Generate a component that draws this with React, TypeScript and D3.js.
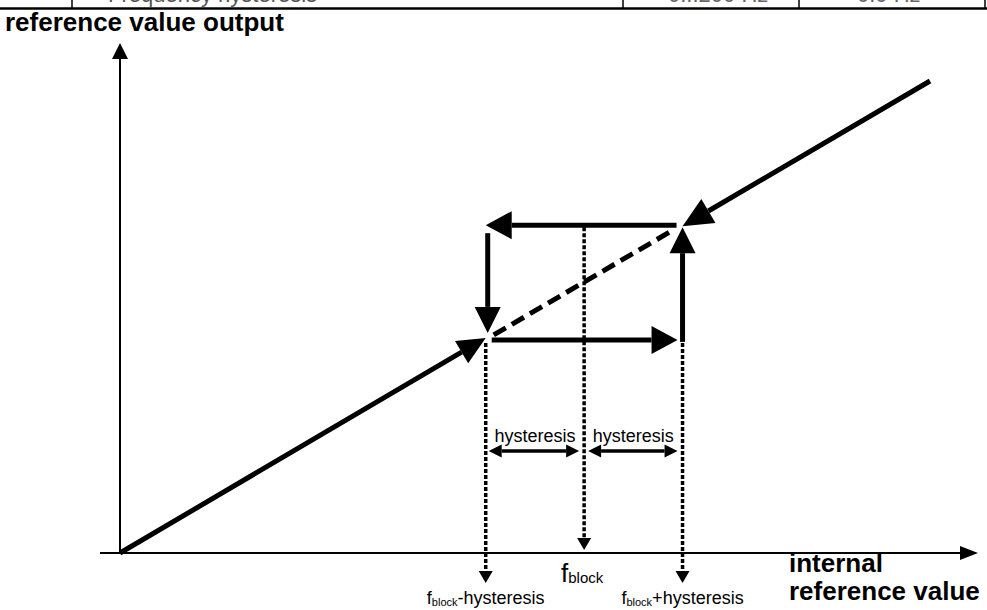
import React from "react";
import * as d3 from "d3";

// ---- data ----
const X_DOMAIN = [0, 100];
const Y_DOMAIN = [0, 100];
const characteristic = [0, 100]; // output = input along the reference line
const F_BLOCK = 57.3;
const HYSTERESIS = 12.15;
const Y_TITLE = "reference value output";
const X_TITLE = ["internal", "reference value"];
const HYST_LABEL = "hysteresis";
const TABLE_CELLS = ["", "Frequency hysteresis", "0...200 Hz", "0.0 Hz"];

const W = 987;
const H = 610;
const FONT = "'Liberation Sans', Arial, sans-serif";

const x = d3.scaleLinear().domain(X_DOMAIN).range([120, 930]);
const y = d3.scaleLinear().domain(Y_DOMAIN).range([553, 81]);

function head(tx: number, ty: number, fx: number, fy: number, L: number, Wd: number) {
  const dx = tx - fx, dy = ty - fy;
  const len = Math.hypot(dx, dy) || 1;
  const ux = dx / len, uy = dy / len;
  const bx = tx - ux * L, by = ty - uy * L;
  const nx = -uy, ny = ux;
  const pts: [number, number][] = [
    [tx, ty],
    [bx + nx * Wd / 2, by + ny * Wd / 2],
    [bx - nx * Wd / 2, by - ny * Wd / 2],
  ];
  return { path: d3.line()(pts.concat([pts[0]])) as string, bx, by };
}

function Arrow({ x1, y1, x2, y2, sw, L, Wd, dash }: any) {
  const h = head(x2, y2, x1, y1, L, Wd);
  return (
    <g>
      <line x1={x1} y1={y1} x2={h.bx} y2={h.by} stroke="#000" strokeWidth={sw} strokeDasharray={dash} />
      <path d={h.path} fill="#000" />
    </g>
  );
}

function DoubleArrow({ x1, x2, yy }: any) {
  const a = head(x1, yy, x2, yy, 13, 13);
  const b = head(x2, yy, x1, yy, 13, 13);
  return (
    <g>
      <line x1={a.bx} y1={yy} x2={b.bx} y2={yy} stroke="#000" strokeWidth={3.5} />
      <path d={a.path} fill="#000" />
      <path d={b.path} fill="#000" />
    </g>
  );
}

export default function App() {
  const lo = F_BLOCK - HYSTERESIS;
  const hi = F_BLOCK + HYSTERESIS;
  const xl = x(lo), xh = x(hi), xb = x(F_BLOCK);
  const yl = y(lo), yh = y(hi);
  const x0 = x(characteristic[0]), y0 = y(characteristic[0]);
  const xe = x(characteristic[1]), ye = y(characteristic[1]);
  const axisY = y(0);
  const hystY = 451;
  const dot = "4 2";

  return (
    <svg width={W} height={H} style={{ position: "absolute", left: 0, top: 0, background: "#fff" }} fontFamily={FONT}>
      <rect width={W} height={H} fill="#fff" />
      {/* cut-off table row */}
      <line x1={0} y1={8.5} x2={987} y2={8.5} stroke="#000" strokeWidth={2.5} />
      {[72, 623, 799, 985].map((vx) => (
        <line key={vx} x1={vx} y1={0} x2={vx} y2={8} stroke="#000" strokeWidth={1.5} />
      ))}
      <text x={108} y={1.5} fontSize={22} fill="#555">{TABLE_CELLS[1]}</text>
      <text x={668} y={1.5} fontSize={22} fill="#666">{TABLE_CELLS[2]}</text>
      <text x={857} y={1.5} fontSize={22} fill="#666">{TABLE_CELLS[3]}</text>

      {/* axis titles */}
      <text x={5} y={31} fontSize={26} fontWeight="bold">{Y_TITLE}</text>
      <text x={789} y={572} fontSize={26} fontWeight="bold">{X_TITLE[0]}</text>
      <text x={789} y={600} fontSize={26} fontWeight="bold">{X_TITLE[1]}</text>

      {/* axes */}
      <Arrow x1={x0} y1={axisY + 1} x2={x0} y2={43} sw={2} L={16} Wd={16} />
      <Arrow x1={100} y1={axisY} x2={978} y2={axisY} sw={2} L={18} Wd={14} />

      {/* characteristic line */}
      <Arrow x1={x0} y1={y0} x2={xl} y2={yl - 2} sw={5} L={28} Wd={26} />
      <line x1={xl + 8} y1={yl - 5} x2={xh - 8} y2={yh + 4} stroke="#000" strokeWidth={5} strokeDasharray="14 7" />
      <Arrow x1={xe} y1={ye} x2={xh} y2={yh + 1} sw={5} L={30} Wd={28} />

      {/* hysteresis loop */}
      <Arrow x1={xh - 6} y1={yh} x2={xl} y2={yh} sw={5} L={26} Wd={28} />
      <Arrow x1={xl + 2} y1={yh + 8} x2={xl + 2} y2={yl - 7} sw={5} L={26} Wd={26} />
      <Arrow x1={xl + 6} y1={yl} x2={xh - 5} y2={yl} sw={5} L={26} Wd={28} />
      <Arrow x1={xh} y1={yl + 2} x2={xh} y2={yh + 2} sw={5} L={26} Wd={26} />

      {/* dotted verticals */}
      <Arrow x1={xl} y1={yl + 3} x2={xl} y2={583} sw={3.5} L={12} Wd={14} dash={dot} />
      <Arrow x1={xb} y1={yh + 2} x2={xb} y2={550} sw={3.5} L={12} Wd={14} dash={dot} />
      <Arrow x1={xh} y1={yl + 3} x2={xh} y2={583} sw={3.5} L={12} Wd={14} dash={dot} />

      {/* hysteresis ranges */}
      <DoubleArrow x1={xl + 3} x2={xb - 5} yy={hystY} />
      <DoubleArrow x1={xb + 4} x2={xh - 5} yy={hystY} />
      <text x={(xl + xb) / 2} y={442} fontSize={18} textAnchor="middle">{HYST_LABEL}</text>
      <text x={(xb + xh) / 2} y={442} fontSize={18} textAnchor="middle">{HYST_LABEL}</text>

      {/* frequency labels */}
      <text x={xb - 2} y={582} textAnchor="middle">
        <tspan fontSize={26}>f</tspan>
        <tspan fontSize={15} dy={1}>block</tspan>
      </text>
      <text x={xl} y={604} textAnchor="middle">
        <tspan fontSize={18}>f</tspan>
        <tspan fontSize={11} dy={2}>block</tspan>
        <tspan fontSize={18} dy={-2}>-{HYST_LABEL}</tspan>
      </text>
      <text x={xh} y={604} textAnchor="middle">
        <tspan fontSize={18}>f</tspan>
        <tspan fontSize={11} dy={2}>block</tspan>
        <tspan fontSize={18} dy={-2}>+{HYST_LABEL}</tspan>
      </text>
    </svg>
  );
}
